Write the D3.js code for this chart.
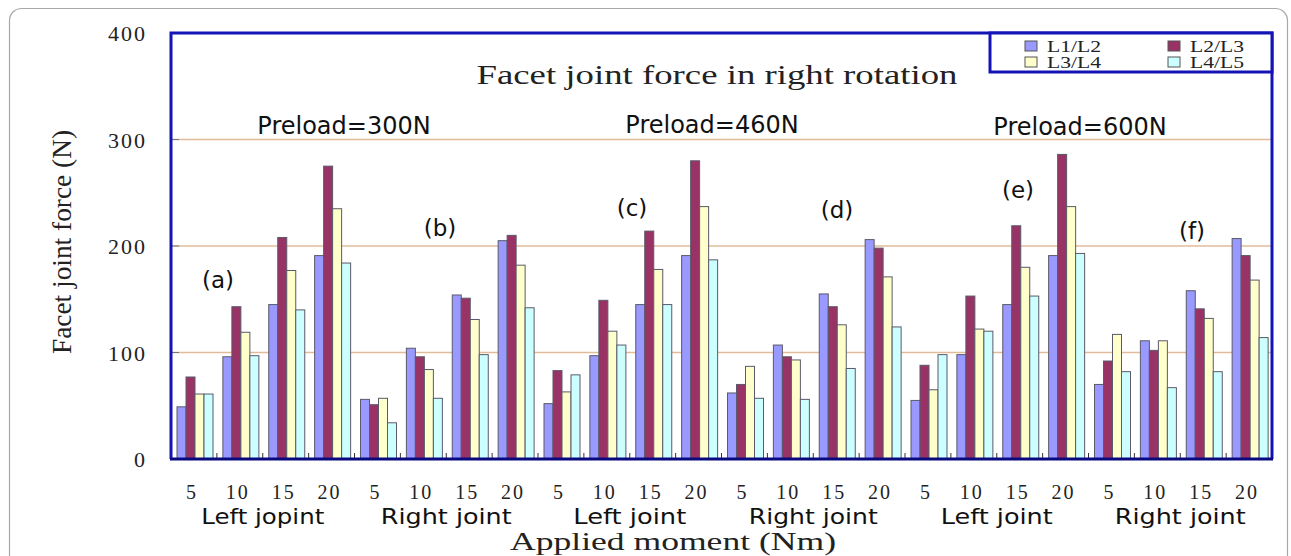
<!DOCTYPE html>
<html><head><meta charset="utf-8">
<script src="https://cdn.jsdelivr.net/npm/d3@7"></script>
<style>html,body{margin:0;padding:0;background:#fff;}svg{display:block;}</style>
</head><body>
<svg id="c" width="1291" height="556"></svg>
<script>
// ---- data ----
const moments = ["5","10","15","20"];
const jointLabels = ["Left jopint","Right joint","Left joint","Right joint","Left joint","Right joint"];
const preloads = ["Preload=300N","Preload=460N","Preload=600N"];
const panelLabels = ["(a)","(b)","(c)","(d)","(e)","(f)"];
const series = ["L1/L2","L2/L3","L3/L4","L4/L5"];
const yTicks = [0,100,200,300,400];
const L1L2 = [49,96,145,191,56,104,154,205, 52,97,145,191,62,107,155,206, 55,98,145,191,70,111,158,207];
const L2L3 = [77,143,208,275,51,96,151,210, 83,149,214,280,70,96,143,198, 88,153,219,286,92,102,141,191];
const L3L4 = [61,119,177,235,57,84,131,182, 63,120,178,237,87,93,126,171, 65,122,180,237,117,111,132,168];
const L4L5 = [61,97,140,184,34,57,98,142, 79,107,145,187,57,56,85,124, 98,120,153,193,82,67,82,114];
const values = [L1L2, L2L3, L3L4, L4L5];
const colors = ["#9999ff","#993366","#ffffcc","#ccffff"];

// ---- layout ----
const svg = d3.select("#c");
const L = 171, R = 1272, T = 33, B = 459;
const serif = "'Liberation Serif', 'Times New Roman', serif";
const sans = "'DejaVu Sans', Verdana, sans-serif";

// outer frame
svg.append("rect").attr("x",9.5).attr("y",8.5).attr("width",1278).attr("height",600)
  .attr("rx",12).attr("fill","none").attr("stroke","#a8a8a8").attr("stroke-width",1.2);

const groups = d3.range(24);
const x0 = d3.scaleBand().domain(groups).range([L, R]).padding(0);
const step = x0.bandwidth();
const x1 = d3.scaleBand().domain(series).range([6, 42]).padding(0);
const y = d3.scaleLinear().domain([0,400]).range([B, T]);

// gridlines
svg.append("g").selectAll("line").data([100,200,300]).join("line")
  .attr("x1",L).attr("x2",R).attr("y1",d=>y(d)).attr("y2",d=>y(d))
  .attr("stroke","#e2bc98").attr("stroke-width",1.5);

// y axis ticks (inside)
svg.append("g").selectAll("line").data([100,200,300]).join("line")
  .attr("x1",L).attr("x2",L+8).attr("y1",d=>y(d)).attr("y2",d=>y(d))
  .attr("stroke","#777").attr("stroke-width",1);

// bars
const gG = svg.append("g").selectAll("g").data(groups).join("g")
  .attr("transform", d=>`translate(${x0(d)},0)`);
gG.selectAll("rect").data(g => series.map((s,i)=>({s, i, v: values[i][g]}))).join("rect")
  .attr("x", d=>x1(d.s)).attr("width", x1.bandwidth())
  .attr("y", d=>y(d.v)).attr("height", d=>B - y(d.v))
  .attr("fill", d=>colors[d.i]).attr("stroke","#5a5a6a").attr("stroke-width",1);

// x group ticks
svg.append("g").selectAll("line").data(d3.range(1,24)).join("line")
  .attr("x1",d=>L+d*step).attr("x2",d=>L+d*step).attr("y1",B).attr("y2",B-6)
  .attr("stroke","#333").attr("stroke-width",1);

// frame
svg.append("path").attr("d",`M${L},${B} V${T} H${R} V${B}`)
  .attr("fill","none").attr("stroke","#1414b4").attr("stroke-width",3);
svg.append("line").attr("x1",L-1).attr("x2",R+1).attr("y1",B).attr("y2",B)
  .attr("stroke","#0a0a80").attr("stroke-width",3);

// y tick labels
svg.append("g").selectAll("text").data(yTicks).join("text")
  .attr("x",147).attr("y",d=>y(d)+8).attr("text-anchor","end")
  .attr("font-family",serif).attr("font-size",22).attr("letter-spacing",2).attr("fill","#222")
  .text(d=>d);

// y title
svg.append("text").attr("transform","translate(71,242) rotate(-90)")
  .attr("text-anchor","middle").attr("font-family",serif).attr("font-size",28).attr("fill","#222")
  .attr("textLength",224).attr("lengthAdjust","spacingAndGlyphs")
  .text("Facet joint force (N)");

// x tick labels
svg.append("g").selectAll("text").data(groups).join("text")
  .attr("x",d=>x0(d)+step/2 - 2).attr("y",499).attr("text-anchor","middle")
  .attr("font-family",serif).attr("font-size",20).attr("letter-spacing",2).attr("fill","#222")
  .text(d=>moments[d%4]);

// joint labels
const jointW = [123,131,113,129,112,131];
svg.append("g").selectAll("text").data(jointLabels).join("text")
  .attr("x",(d,i)=>x0(i*4)+2*step).attr("y",524).attr("text-anchor","middle")
  .attr("font-family",sans).attr("font-size",22).attr("fill","#111")
  .attr("textLength",(d,i)=>jointW[i]).attr("lengthAdjust","spacingAndGlyphs")
  .text(d=>d);

// x title
svg.append("text").attr("x",673).attr("y",550).attr("text-anchor","middle")
  .attr("font-family",serif).attr("font-size",26).attr("fill","#222")
  .attr("textLength",326).attr("lengthAdjust","spacingAndGlyphs")
  .text("Applied moment (Nm)");

// chart title
svg.append("text").attr("x",717).attr("y",84).attr("text-anchor","middle")
  .attr("font-family",serif).attr("font-size",27).attr("fill","#222")
  .attr("textLength",481).attr("lengthAdjust","spacingAndGlyphs")
  .text("Facet joint force in right rotation");

// preload labels
const preX = [344,712,1080], preY = [134,133,135];
svg.append("g").selectAll("text").data(preloads).join("text")
  .attr("x",(d,i)=>preX[i]).attr("y",(d,i)=>preY[i]).attr("text-anchor","middle")
  .attr("font-family",sans).attr("font-size",24).attr("fill","#111")
  .text(d=>d);

// panel labels
const panelPos = [[218,288],[440,236],[632,216],[837,218],[1018,198],[1192,239]];
svg.append("g").selectAll("text").data(panelLabels).join("text")
  .attr("x",(d,i)=>panelPos[i][0]).attr("y",(d,i)=>panelPos[i][1]).attr("text-anchor","middle")
  .attr("font-family",sans).attr("font-size",23).attr("fill","#111")
  .text(d=>d);

// legend
const lg = svg.append("g");
lg.append("rect").attr("x",990).attr("y",33).attr("width",R-990).attr("height",39)
  .attr("fill","#fff").attr("stroke","#1414b4").attr("stroke-width",3);
const lx = [1025,1168], ly = [41,57];
series.forEach((s,i)=>{
  const cx = lx[i%2], cy = ly[Math.floor(i/2)];
  lg.append("rect").attr("x",cx).attr("y",cy).attr("width",12).attr("height",10)
    .attr("fill",colors[i]).attr("stroke","#555").attr("stroke-width",1);
  lg.append("text").attr("x",cx+22).attr("y",cy+11).attr("font-family",serif).attr("font-size",16)
    .attr("textLength",54).attr("lengthAdjust","spacingAndGlyphs")
    .attr("fill","#222").text(s);
});
</script>
</body></html>
